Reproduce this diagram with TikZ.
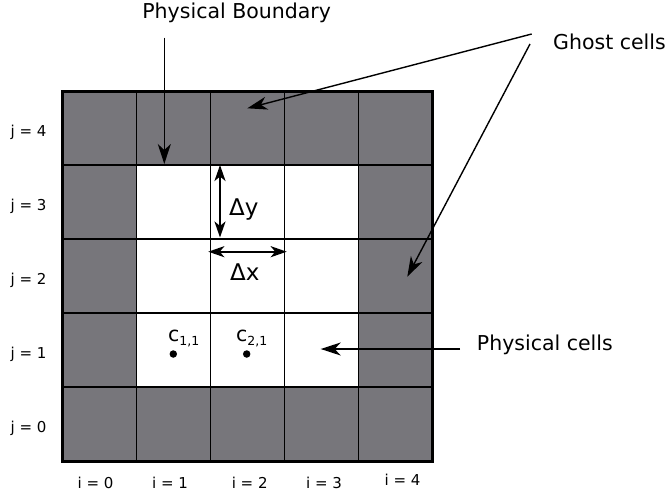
\documentclass[tikz,border=0pt]{standalone}
\usepackage{fontspec}
\setmainfont{DejaVu Sans}
\usetikzlibrary{arrows.meta}
\definecolor{ghostgray}{RGB}{119,118,123}
\begin{document}
\begin{tikzpicture}[x=1pt,y=-1pt,
  cellbase/.style={minimum width=74pt,minimum height=74pt,inner sep=0pt,outer sep=0pt,draw=black,line width=1.9pt},
  big/.style={font=\fontsize{20.5}{24}\selectfont,inner sep=0pt},
  dlabel/.style={font=\fontsize{23}{26}\selectfont,inner sep=0pt},
  idx/.style={font=\fontsize{15}{18}\selectfont,inner sep=0pt},
  ptr/.style={line width=1.4pt,-{Stealth[length=20pt,width=13pt,inset=6pt]}},
  dim/.style={line width=2.4pt,{Stealth[length=16pt,width=11pt,inset=4.5pt]}-{Stealth[length=16pt,width=11pt,inset=4.5pt]}},
  dot/.style={circle,fill=black,inner sep=0pt,minimum size=7.5pt}
]
\useasboundingbox (0,0) rectangle (670,498);
% cells
\foreach \i in {0,...,4}{
  \foreach \j in {0,...,4}{
    \pgfmathtruncatemacro\isghost{or(or(\i==0,\i==4),or(\j==0,\j==4))}
    \ifnum\isghost=1 \def\fc{ghostgray}\else\def\fc{white}\fi
    \node[cellbase,fill=\fc] (cell-\i-\j) at ({99.5+74*\i},{424-74*\j}) {};
  }
}
\draw[line width=3pt] (cell-0-4.north west) rectangle (cell-4-0.south east);
% row and column labels
\foreach \j in {0,...,4}{
  \node[idx] (j\j) at (28.5,{428-74*\j}) {j = \j};
}
\node[idx] (i0) at (95.5,483) {i = 0};
\node[idx] (i1) at (170,483) {i = 1};
\node[idx] (i2) at (249.7,483) {i = 2};
\node[idx] (i3) at (324,483) {i = 3};
\node[idx] (i4) at (402.5,480) {i = 4};
% physical boundary
\node[big,anchor=base] (pb) at (236.7,18.5) {Physical Boundary};
\coordinate (pbstart) at (164.3,37.7);
\coordinate (pbtip) at (164.3,164);
\draw[ptr] (pbstart) -- (pbtip);
% ghost cells
\node[big,anchor=base west] (gc) at (553,49) {Ghost cells};
\coordinate (gs1) at (531.7,34);
\coordinate (gs2) at (530,44);
\coordinate (gt1) at (247.3,108.3);
\coordinate (gt2) at (407.3,276.7);
\draw[ptr] (gs1) -- (gt1);
\draw[ptr] (gs2) -- (gt2);
% physical cells
\node[big,anchor=base west] (pc) at (476.7,350) {Physical cells};
\coordinate (pcs) at (460,349);
\coordinate (pct) at (320.7,349);
\draw[ptr] (pcs) -- (pct);
% dimensions
\coordinate (dyt) at (220,165);
\coordinate (dyb) at (220,237.5);
\draw[dim] (dyt) -- (dyb);
\node[dlabel,anchor=base west] (dy) at (229,215) {Δy};
\coordinate (dxl) at (208.3,251.7);
\coordinate (dxr) at (286.7,251.7);
\draw[dim] (dxl) -- (dxr);
\node[dlabel,anchor=base west] (dx) at (230,280) {Δx};
% cell centres
\node[dot] (d11) at (173.3,354) {};
\node[dot] (d21) at (246.7,354) {};
\node[big,anchor=base west] (c11) at (168,341.7) {c\raisebox{-4pt}{\fontsize{12.5}{12.5}\selectfont 1,1}};
\node[big,anchor=base west] (c21) at (236,341.7) {c\raisebox{-4pt}{\fontsize{12.5}{12.5}\selectfont 2,1}};
\end{tikzpicture}
\end{document}
